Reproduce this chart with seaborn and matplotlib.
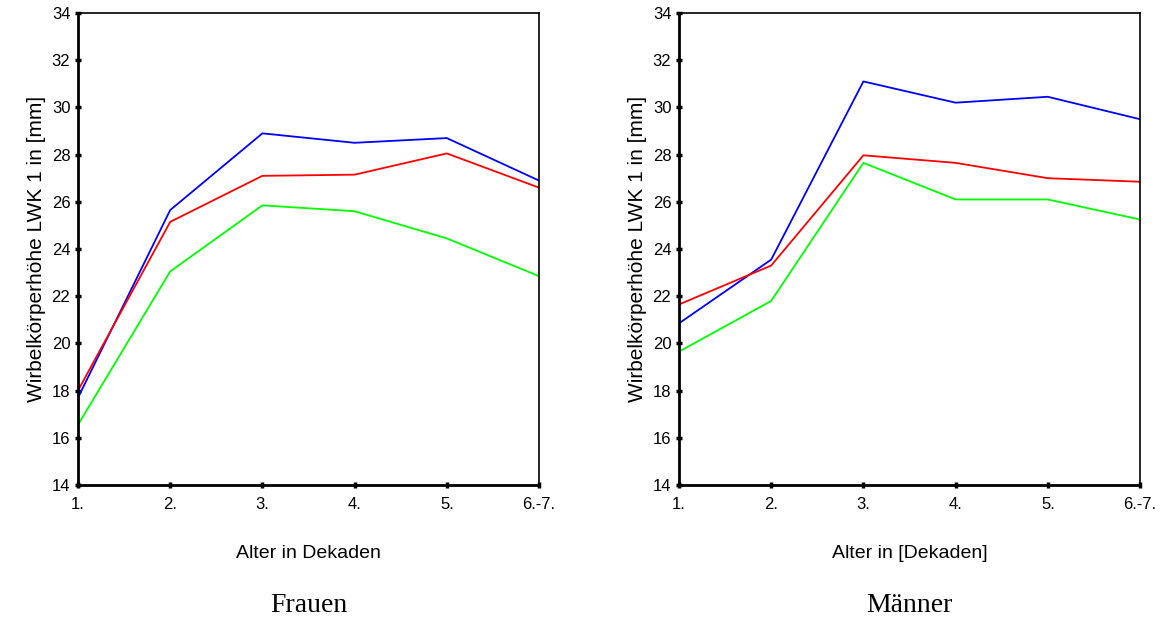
import matplotlib
matplotlib.use("Agg")
import matplotlib.pyplot as plt
import seaborn as sns
import pandas as pd

categories = ["1.", "2.", "3.", "4.", "5.", "6.-7."]

frauen_blue = [17.7, 25.65, 28.9, 28.5, 28.7, 26.9]
frauen_red = [18.0, 25.15, 27.1, 27.15, 28.05, 26.6]
frauen_green = [16.55, 23.05, 25.85, 25.6, 24.45, 22.85]

maenner_blue = [20.85, 23.55, 31.1, 30.2, 30.45, 29.5]
maenner_red = [21.65, 23.3, 27.97, 27.65, 27.0, 26.85]
maenner_green = [19.65, 21.8, 27.65, 26.1, 26.1, 25.25]

series_names = ["blau", "rot", "grün"]
series_colors = {"blau": "#0000FF", "rot": "#FF0000", "grün": "#00FF00"}

y_ticks = [14, 16, 18, 20, 22, 24, 26, 28, 30, 32, 34]
y_label = "Wirbelkörperhöhe LWK 1 in [mm]"
x_labels = ["Alter in Dekaden", "Alter in [Dekaden]"]
titles = ["Frauen", "Männer"]


def make_df(blue, red, green):
    rows = []
    for name, vals in zip(series_names, [blue, red, green]):
        for i, v in enumerate(vals):
            rows.append({"x": i, "y": v, "serie": name})
    return pd.DataFrame(rows)


sns.set_style("white")
plt.rcParams["font.family"] = ["Liberation Sans", "DejaVu Sans"]
plt.rcParams["text.color"] = "black"
plt.rcParams["axes.labelcolor"] = "black"
plt.rcParams["xtick.color"] = "black"
plt.rcParams["ytick.color"] = "black"

fig = plt.figure(figsize=(11.64, 6.21), dpi=100)
ax_positions = [
    [78 / 1164, 1 - 485 / 621, (539 - 78) / 1164, (485 - 13) / 621],
    [679 / 1164, 1 - 485 / 621, (1140 - 679) / 1164, (485 - 13) / 621],
]
datasets = [
    make_df(frauen_blue, frauen_red, frauen_green),
    make_df(maenner_blue, maenner_red, maenner_green),
]

for pos, df, xl, title in zip(ax_positions, datasets, x_labels, titles):
    ax = fig.add_axes(pos)
    sns.lineplot(data=df, x="x", y="y", hue="serie", palette=series_colors,
                 linewidth=1.3, ax=ax, legend=False)
    ax.set_xlim(0, len(categories) - 1)
    ax.set_ylim(14, 34)
    ax.set_xticks(range(len(categories)))
    ax.set_xticklabels(categories, fontsize=12)
    ax.set_yticks(y_ticks)
    ax.set_yticklabels([str(t) for t in y_ticks], fontsize=12)
    ax.tick_params(axis="both", direction="inout", length=5, width=2.5,
                   color="black", labelcolor="black", pad=3,
                   left=True, bottom=True)
    ax.tick_params(axis="x", pad=6)
    for sp in ax.spines.values():
        sp.set_color("black")
        sp.set_linewidth(1.2)
    ax.spines["left"].set_linewidth(2)
    ax.spines["bottom"].set_linewidth(2)
    ax.set_ylabel(y_label, fontsize=15, labelpad=4, color="black")
    ax.set_xlabel(xl, fontsize=14, labelpad=24, color="black")
    ax.text(0.5, -0.255, title, transform=ax.transAxes, ha="center",
            va="center", fontsize=20, family="Liberation Serif", color="black")

fig.savefig("out.png", dpi=100, facecolor="white")
